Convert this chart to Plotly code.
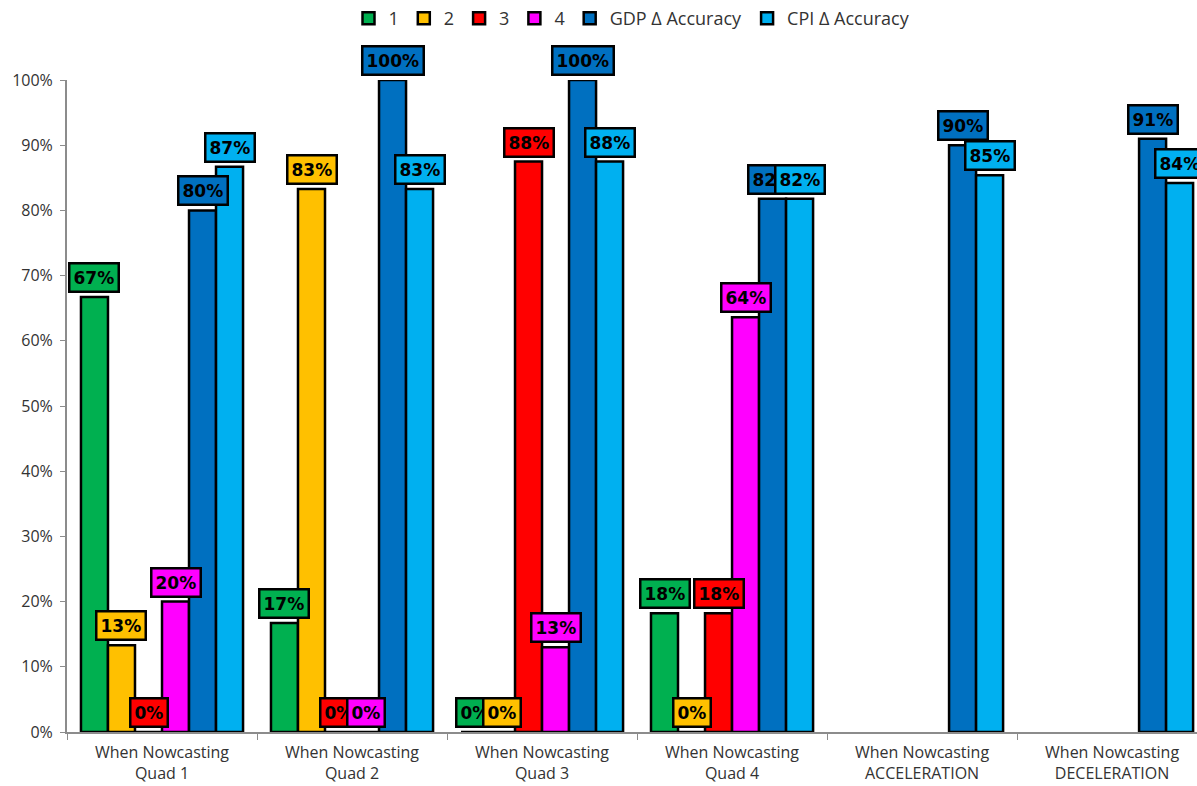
import plotly.graph_objects as go

categories = [
    "When Nowcasting<br>Quad 1",
    "When Nowcasting<br>Quad 2",
    "When Nowcasting<br>Quad 3",
    "When Nowcasting<br>Quad 4",
    "When Nowcasting<br>ACCELERATION",
    "When Nowcasting<br>DECELERATION",
]
series_names = ["1", "2", "3", "4", "GDP Δ Accuracy", "CPI Δ Accuracy"]
series_colors = ["#00B050", "#FFC000", "#FF0000", "#FF00FF", "#0070C0", "#00B0F0"]

quad_1_share = [0.667, 0.167, 0.0, 0.182, None, None]
quad_2_share = [0.133, 0.833, 0.0, 0.0, None, None]
quad_3_share = [0.0, 0.0, 0.875, 0.182, None, None]
quad_4_share = [0.20, 0.0, 0.13, 0.636, None, None]
gdp_acc = [0.80, 1.00, 1.00, 0.818, 0.90, 0.91]
cpi_acc = [0.867, 0.833, 0.875, 0.818, 0.854, 0.842]

series_values = [quad_1_share, quad_2_share, quad_3_share, quad_4_share, gdp_acc, cpi_acc]

FONT = "Open Sans, sans-serif"
LABEL_FONT = "DejaVu Sans, sans-serif"
BARGAP = 0.147
n_series = len(series_values)
group_width = 1 - BARGAP
bar_w = group_width / n_series

fig = go.Figure()
for name, color, vals in zip(series_names, series_colors, series_values):
    fig.add_trace(go.Bar(
        name=name,
        x=categories,
        y=vals,
        marker=dict(color=color, line=dict(color="black", width=2.5)),
    ))

# boxed value labels sitting just above each bar
annotations = []
for k, (color, vals) in enumerate(zip(series_colors, series_values)):
    offset = -group_width / 2 + (k + 0.5) * bar_w
    for i, v in enumerate(vals):
        if v is None:
            continue
        annotations.append(dict(
            x=i + offset, y=v, xref="x", yref="y",
            text=f"<b>{int(v * 100 + 0.5)}%</b>",
            showarrow=False, xanchor="center", yanchor="bottom", yshift=4,
            font=dict(family=LABEL_FONT, size=17, color="black"),
            bgcolor=color, bordercolor="black", borderwidth=2.5, borderpad=3,
        ))

fig.update_layout(
    width=1197, height=786,
    margin=dict(l=67, r=0, t=80, b=54),
    plot_bgcolor="white", paper_bgcolor="white",
    barmode="group", bargap=BARGAP, bargroupgap=0,
    font=dict(family=FONT, size=16, color="#333333"),
    legend=dict(orientation="h", x=0.5, xanchor="center", y=1.0, yref="container",
                yanchor="top", font=dict(size=18, color="#333333"),
                itemwidth=30, tracegroupgap=0),
    annotations=annotations,
    showlegend=True,
)
fig.update_xaxes(
    range=[-0.5, 5.447], showline=True, linecolor="#8c8c8c", linewidth=2,
    ticks="outside", tickson="boundaries", ticklen=6, tickcolor="#8c8c8c",
    showgrid=False, tickfont=dict(size=16, color="#333333"), ticklabelstandoff=5,
)
fig.update_yaxes(
    range=[0, 1], tickformat=".0%", dtick=0.1, showline=True, linecolor="#8c8c8c",
    linewidth=2, ticks="outside", ticklen=5, tickcolor="#8c8c8c",
    showgrid=False, zeroline=False, tickfont=dict(size=16, color="#333333"),
    ticklabelstandoff=4,
)

fig.write_html("out.html")
